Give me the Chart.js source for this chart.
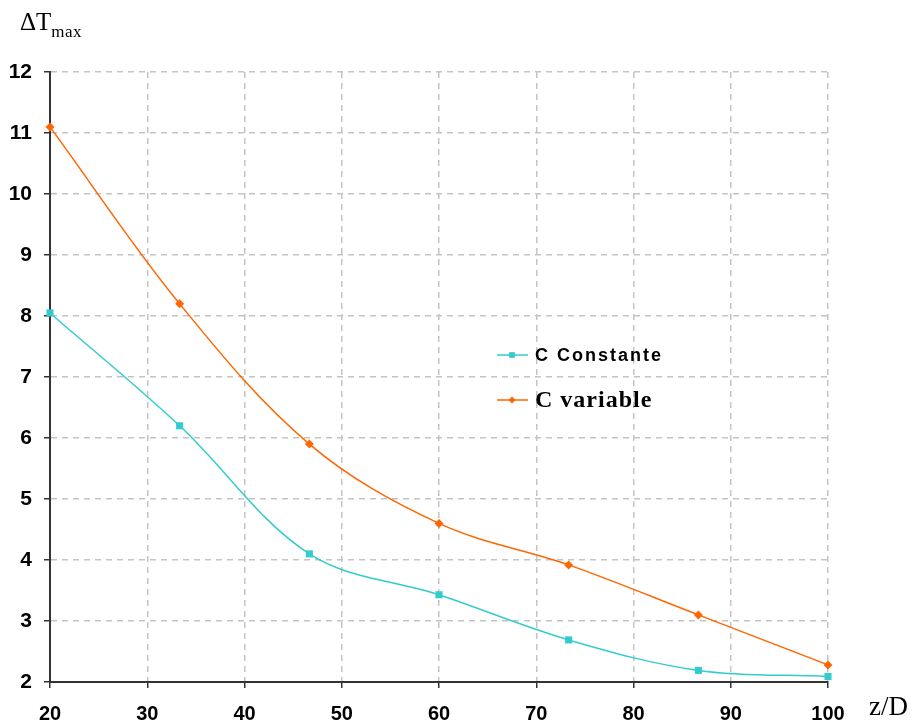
<!DOCTYPE html>
<html>
<head>
<meta charset="utf-8">
<script src="https://cdn.jsdelivr.net/npm/chart.js@4/dist/chart.umd.min.js"></script>
<style>
  html, body { margin: 0; padding: 0; background: #fff; }
  #wrap { width: 916px; height: 727px; position: relative; }
</style>
</head>
<body>
<div id="wrap"><canvas id="lineChart" width="916" height="727"></canvas></div>
<script>
// data
const zD = [20, 33.33, 46.67, 60, 73.33, 86.67, 100];
const cConstante = [8.05, 6.2, 4.1, 3.43, 2.69, 2.19, 2.09];
const cVariable = [11.1, 8.2, 5.9, 4.6, 3.92, 3.1, 2.28];
const seriesNames = ['C Constante', 'C variable'];
const xTicks = [20, 30, 40, 50, 60, 70, 80, 90, 100];

const cyan = '#33cccc';
const orange = '#ff6600';
const tickFamily = '"Liberation Sans", Arial, sans-serif';

// legend + axis titles drawn on the canvas
const extrasPlugin = {
    id: 'extras',
    afterDraw(chart) {
        const c = chart.ctx;
        c.save();
        c.textBaseline = 'alphabetic';
        c.fillStyle = '#000';
        // y title
        c.font = '25px "Liberation Serif", serif';
        c.fillText('\u0394T', 20, 30);
        const w = c.measureText('\u0394T').width;
        c.font = '17px "Liberation Serif", serif';
        c.letterSpacing = '0.5px';
        c.fillText('max', 20 + w, 37);
        c.letterSpacing = '0px';
        // x title
        c.font = '27px "Liberation Serif", serif';
        c.fillText('z/D', 869, 715);

        // legend
        const items = [
            { y: 355, color: cyan, style: 'rect', font: 'bold 18px "Liberation Sans", Arial, sans-serif', sp: '2px', r: 4 },
            { y: 400, color: orange, style: 'rectRot', font: 'bold 24px "Liberation Serif", serif', sp: '1px', r: 3.5 }
        ];
        items.forEach((it, i) => {
            c.strokeStyle = it.color;
            c.lineWidth = 1.5;
            c.beginPath();
            c.moveTo(497, it.y);
            c.lineTo(528, it.y);
            c.stroke();
            c.fillStyle = it.color;
            Chart.helpers.drawPoint(c, { pointStyle: it.style, radius: it.r, borderWidth: 0 }, 512, it.y);
            c.fillStyle = '#000';
            c.font = it.font;
            c.letterSpacing = it.sp;
            c.textBaseline = 'middle';
            c.fillText(seriesNames[i], 535, it.y + 1);
        });
        c.restore();
    }
};

const ctx = document.getElementById('lineChart').getContext('2d');

new Chart(ctx, {
    type: 'scatter',
    data: {
        datasets: [{
            label: seriesNames[0],
            data: zD.map((x, i) => ({ x: x, y: cConstante[i] })),
            showLine: true,
            clip: false,
            borderColor: cyan,
            backgroundColor: cyan,
            borderWidth: 1.5,
            pointStyle: 'rect',
            pointRadius: 5,
            pointBorderWidth: 0,
            tension: 0.35
        }, {
            label: seriesNames[1],
            data: zD.map((x, i) => ({ x: x, y: cVariable[i] })),
            showLine: true,
            clip: false,
            borderColor: orange,
            backgroundColor: orange,
            borderWidth: 1.5,
            pointStyle: 'rectRot',
            pointRadius: 4.5,
            pointBorderWidth: 0,
            tension: 0.35
        }]
    },
    options: {
        responsive: false,
        animation: false,
        layout: { padding: { left: 0, top: 72, right: 88, bottom: 0 } },
        plugins: {
            legend: { display: false },
            tooltip: { enabled: false }
        },
        scales: {
            x: {
                type: 'linear',
                min: 20,
                max: 100,
                afterBuildTicks: s => { s.ticks = xTicks.map(v => ({ value: v })); },
                afterFit: s => { s.height = 45; },
                grid: { color: '#c4c4c4', lineWidth: 1.5, tickLength: 6, tickColor: '#333', tickWidth: 1.5 },
                border: { display: true, color: '#333', width: 2, dash: [6, 5] },
                ticks: {
                    padding: 14,
                    color: '#000',
                    font: { family: tickFamily, weight: 'bold', size: 20 }
                }
            },
            y: {
                min: 2,
                max: 12,
                afterFit: s => { s.width = 50; },
                grid: { color: '#c4c4c4', lineWidth: 1.5, tickLength: 6, tickColor: '#333', tickWidth: 1.5 },
                border: { display: true, color: '#333', width: 2, dash: [6, 5] },
                ticks: {
                    stepSize: 1,
                    padding: 12,
                    color: '#000',
                    font: { family: tickFamily, weight: 'bold', size: 21 }
                }
            }
        }
    },
    plugins: [extrasPlugin]
});
</script>
</body>
</html>
